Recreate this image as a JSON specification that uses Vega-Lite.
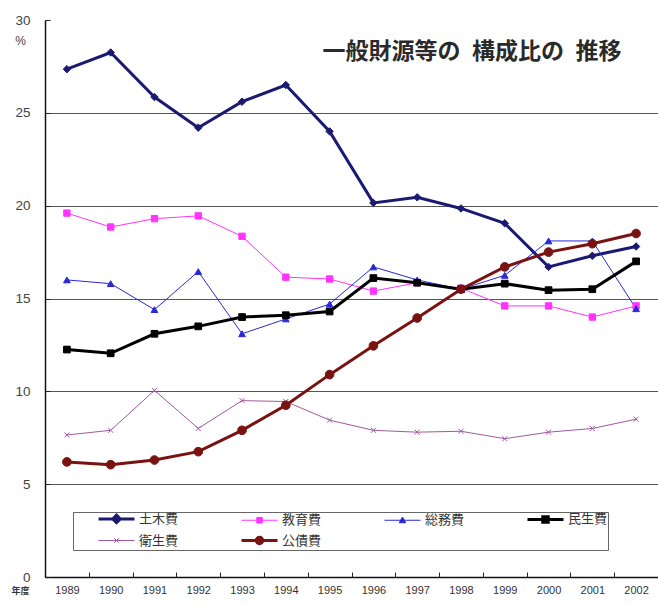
{
  "$schema": "https://vega.github.io/schema/vega-lite/v6.json",
  "width": 613,
  "height": 557,
  "autosize": {"type": "none"},
  "padding": {"left": 45, "top": 20, "right": 0, "bottom": 29},
  "background": "white",
  "title": {"text": "一般財源等の\u2002構成比の\u2002推移", "anchor": "end", "orient": "top", "offset": 0, "dx": -37, "dy": 62, "baseline": "middle", "font": "Noto Sans CJK JP", "fontSize": 23, "fontWeight": "bold", "color": "#2a2a2a"},
  "config": {"view": {"stroke": null}},
  "data": {"values": [
    {"year":"1989","series":"土木費","value":27.35},{"year":"1990","series":"土木費","value":28.25},{"year":"1991","series":"土木費","value":25.85},{"year":"1992","series":"土木費","value":24.2},{"year":"1993","series":"土木費","value":25.6},{"year":"1994","series":"土木費","value":26.5},{"year":"1995","series":"土木費","value":24.0},{"year":"1996","series":"土木費","value":20.15},{"year":"1997","series":"土木費","value":20.45},{"year":"1998","series":"土木費","value":19.85},{"year":"1999","series":"土木費","value":19.05},{"year":"2000","series":"土木費","value":16.7},{"year":"2001","series":"土木費","value":17.3},{"year":"2002","series":"土木費","value":17.8},
    {"year":"1989","series":"教育費","value":19.6},{"year":"1990","series":"教育費","value":18.85},{"year":"1991","series":"教育費","value":19.3},{"year":"1992","series":"教育費","value":19.45},{"year":"1993","series":"教育費","value":18.35},{"year":"1994","series":"教育費","value":16.15},{"year":"1995","series":"教育費","value":16.05},{"year":"1996","series":"教育費","value":15.4},{"year":"1997","series":"教育費","value":15.85},{"year":"1998","series":"教育費","value":15.55},{"year":"1999","series":"教育費","value":14.6},{"year":"2000","series":"教育費","value":14.6},{"year":"2001","series":"教育費","value":14.0},{"year":"2002","series":"教育費","value":14.6},
    {"year":"1989","series":"総務費","value":16.0},{"year":"1990","series":"総務費","value":15.8},{"year":"1991","series":"総務費","value":14.4},{"year":"1992","series":"総務費","value":16.45},{"year":"1993","series":"総務費","value":13.1},{"year":"1994","series":"総務費","value":13.9},{"year":"1995","series":"総務費","value":14.7},{"year":"1996","series":"総務費","value":16.7},{"year":"1997","series":"総務費","value":16.0},{"year":"1998","series":"総務費","value":15.5},{"year":"1999","series":"総務費","value":16.25},{"year":"2000","series":"総務費","value":18.1},{"year":"2001","series":"総務費","value":18.1},{"year":"2002","series":"総務費","value":14.45},
    {"year":"1989","series":"民生費","value":12.25},{"year":"1990","series":"民生費","value":12.05},{"year":"1991","series":"民生費","value":13.1},{"year":"1992","series":"民生費","value":13.5},{"year":"1993","series":"民生費","value":14.0},{"year":"1994","series":"民生費","value":14.1},{"year":"1995","series":"民生費","value":14.3},{"year":"1996","series":"民生費","value":16.1},{"year":"1997","series":"民生費","value":15.85},{"year":"1998","series":"民生費","value":15.5},{"year":"1999","series":"民生費","value":15.8},{"year":"2000","series":"民生費","value":15.45},{"year":"2001","series":"民生費","value":15.5},{"year":"2002","series":"民生費","value":17.0},
    {"year":"1989","series":"衛生費","value":7.65},{"year":"1990","series":"衛生費","value":7.9},{"year":"1991","series":"衛生費","value":10.05},{"year":"1992","series":"衛生費","value":8.0},{"year":"1993","series":"衛生費","value":9.5},{"year":"1994","series":"衛生費","value":9.45},{"year":"1995","series":"衛生費","value":8.45},{"year":"1996","series":"衛生費","value":7.9},{"year":"1997","series":"衛生費","value":7.8},{"year":"1998","series":"衛生費","value":7.85},{"year":"1999","series":"衛生費","value":7.45},{"year":"2000","series":"衛生費","value":7.8},{"year":"2001","series":"衛生費","value":8.0},{"year":"2002","series":"衛生費","value":8.5},
    {"year":"1989","series":"公債費","value":6.2},{"year":"1990","series":"公債費","value":6.05},{"year":"1991","series":"公債費","value":6.3},{"year":"1992","series":"公債費","value":6.75},{"year":"1993","series":"公債費","value":7.9},{"year":"1994","series":"公債費","value":9.25},{"year":"1995","series":"公債費","value":10.9},{"year":"1996","series":"公債費","value":12.45},{"year":"1997","series":"公債費","value":13.95},{"year":"1998","series":"公債費","value":15.5},{"year":"1999","series":"公債費","value":16.7},{"year":"2000","series":"公債費","value":17.5},{"year":"2001","series":"公債費","value":17.95},{"year":"2002","series":"公債費","value":18.5}
  ]},
  "encoding": {
    "x": {"field": "year", "type": "ordinal", "bandPosition": 0.5,
      "scale": {"type": "band", "paddingInner": 0, "paddingOuter": 0},
      "axis": {"title": "年度", "titleX": -25, "titleY": 13, "titleAlign": "center", "titleBaseline": "middle", "titleFont": "Noto Sans CJK JP", "titleFontSize": 9, "titleFontWeight": "bold", "titleColor": "#333333",
        "labelAngle": 0, "labelFont": "Liberation Sans", "labelFontSize": 11, "labelColor": "#333333", "labelBaseline": "middle", "labelPadding": 18,
        "tickBand": "extent", "tickSize": -5, "tickColor": "#222222", "domainColor": "#111111", "domainWidth": 1.5, "grid": false}},
    "y": {"field": "value", "type": "quantitative",
      "scale": {"domain": [0, 30], "nice": false, "zero": true},
      "axis": {"title": "%", "titleAngle": 0, "titleX": -25, "titleY": 20, "titleAlign": "center", "titleBaseline": "middle", "titleFont": "Liberation Sans", "titleFontSize": 12, "titleFontWeight": "normal", "titleColor": "#444444",
        "values": [0, 5, 10, 15, 20, 25, 30], "labelFont": "Liberation Sans", "labelFontSize": 13.5, "labelColor": "#444444", "labelPadding": 20,
        "tickSize": -5, "tickColor": "#222222", "domainColor": "#111111", "domainWidth": 1.5,
        "grid": true, "gridColor": "#555555", "gridWidth": 1.2,
        "gridOpacity": {"condition": {"test": "datum.value == 30", "value": 0}, "value": 1}}},
    "color": {"field": "series", "type": "nominal",
      "scale": {"domain": ["土木費", "教育費", "総務費", "民生費", "衛生費", "公債費"], "range": ["#1a1a72", "#ff33ff", "#2828d8", "#000000", "#a05aa0", "#7a1212"]},
      "legend": {"title": null, "orient": "none", "legendX": 28, "legendY": 492, "direction": "horizontal", "columns": 4, "columnPadding": 37, "rowPadding": 2, "padding": 0,
        "strokeColor": "#666666", "fillColor": "white", "symbolOpacity": 1,
        "labelFont": "Noto Sans CJK JP", "labelFontSize": 13, "labelColor": "#333333", "labelOffset": 53, "symbolSize": 100,
        "encode": {"symbols": {"update": {
          "shape": {"signal": "datum.value==='土木費'?'M3.8,0H11M7.4,-0.75L8.15,0L7.4,0.75L6.65,0Z':datum.value==='教育費'?'M3.8,0H11M6.85,-0.55H7.95V0.55H6.85Z':datum.value==='総務費'?'M3.8,0H11M7.4,-0.65L8.05,0.5H6.75Z':datum.value==='民生費'?'M3.8,0H11M6.85,-0.55H7.95V0.55H6.85Z':datum.value==='衛生費'?'M3.8,0H11M6.95,-0.45L7.85,0.45M6.95,0.45L7.85,-0.45':'M3.8,0H11M6.75,0A0.65,0.65,0,1,0,8.05,0A0.65,0.65,0,1,0,6.75,0Z'"},
          "strokeWidth": {"signal": "indexof(['土木費','民生費','公債費'], datum.value) >= 0 ? 2.5 : 1"},
          "fill": {"scale": "color", "field": "value"},
          "stroke": {"scale": "color", "field": "value"},
          "opacity": {"value": 1}
        }}}}}
  },
  "layer": [
    {"mark": {"type": "line"},
     "encoding": {"strokeWidth": {"field": "series", "type": "nominal", "scale": {"type": "ordinal", "domain": ["土木費", "教育費", "総務費", "民生費", "衛生費", "公債費"], "range": [3, 1, 1, 3, 1, 3]}, "legend": null}}},
    {"transform": [{"filter": "datum.series === '土木費'"}],
     "mark": {"type": "point", "shape": "diamond", "filled": true, "opacity": 1, "size": 55, "stroke": "#1a1a72", "strokeWidth": 1}},
    {"transform": [{"filter": "datum.series === '教育費'"}],
     "mark": {"type": "point", "shape": "square", "filled": true, "opacity": 1, "size": 40, "stroke": "#ff33ff", "strokeWidth": 1}},
    {"transform": [{"filter": "datum.series === '総務費'"}],
     "mark": {"type": "point", "shape": "triangle-up", "filled": true, "opacity": 1, "size": 45, "stroke": "#2828d8", "strokeWidth": 1}},
    {"transform": [{"filter": "datum.series === '民生費'"}],
     "mark": {"type": "point", "shape": "square", "filled": true, "opacity": 1, "size": 45, "stroke": "#000000", "strokeWidth": 1}},
    {"transform": [{"filter": "datum.series === '衛生費'"}],
     "mark": {"type": "point", "shape": "M-1,-1L1,1M-1,1L1,-1", "filled": true, "opacity": 1, "size": 25, "stroke": "#a05aa0", "strokeWidth": 1}},
    {"transform": [{"filter": "datum.series === '公債費'"}],
     "mark": {"type": "point", "shape": "circle", "filled": true, "opacity": 1, "size": 75, "stroke": "#7a1212", "strokeWidth": 1}}
  ]
}
